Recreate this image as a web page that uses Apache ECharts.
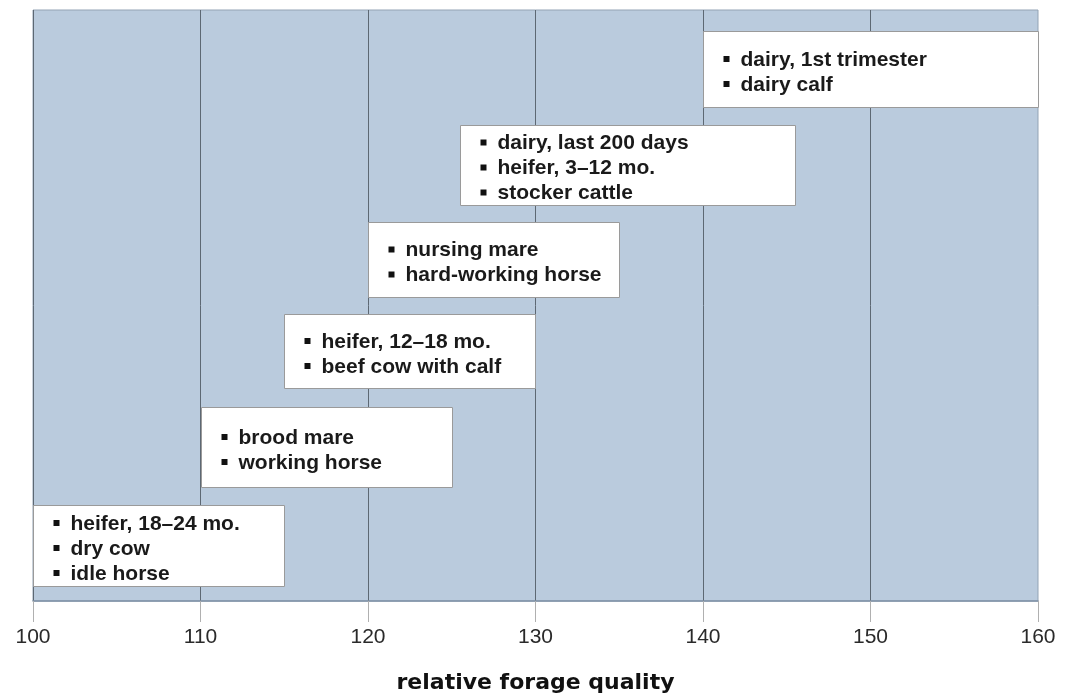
<!DOCTYPE html>
<html>
<head>
<meta charset="utf-8">
<script src="https://cdn.jsdelivr.net/npm/echarts@6/dist/echarts.min.js"></script>
<style>html,body{margin:0;padding:0;background:#fff}#c{width:1069px;height:694px}</style>
</head>
<body>
<div id="c"></div>
<script>
// relative forage quality ranges for each animal group
const groupStart = [100, 110, 115, 120, 125.5, 140];
const groupEnd   = [115, 125, 130, 135, 145.5, 160];
// vertical placement (hidden y axis, 0..100)
const groupTop    = [16.2, 32.8, 48.6, 64.1, 80.5, 96.4];
const groupBottom = [2.5, 19.3, 36.0, 51.4, 67.0, 83.6];
const groupItems = [
  ['heifer, 18–24 mo.', 'dry cow', 'idle horse'],
  ['brood mare', 'working horse'],
  ['heifer, 12–18 mo.', 'beef cow with calf'],
  ['nursing mare', 'hard-working horse'],
  ['dairy, last 200 days', 'heifer, 3–12 mo.', 'stocker cattle'],
  ['dairy, 1st trimester', 'dairy calf']
];
const xMin = 100, xMax = 160, xStep = 10;
const axisTitle = 'relative forage quality';

const seriesData = groupStart.map((s, i) => [s, groupEnd[i], groupTop[i], groupBottom[i]]);
const FONT = '"Liberation Sans", Arial, Helvetica, sans-serif';

const chart = echarts.init(document.getElementById('c'));
chart.setOption({
  animation: false,
  grid: {
    left: 33, right: 31, top: 10, bottom: 93,
    containLabel: false, outerBoundsMode: 'none',
    show: true, backgroundColor: '#bacbdd', borderColor: '#93a3b4', borderWidth: 1
  },
  xAxis: {
    type: 'value', min: xMin, max: xMax, interval: xStep,
    axisLine: { show: true, lineStyle: { color: '#7f91a6', width: 1.5 } },
    axisTick: { show: true, length: 21, lineStyle: { color: '#b0b0b0', width: 1 } },
    axisLabel: { fontSize: 21, color: '#2a2a2a', margin: 26, fontFamily: FONT },
    splitLine: { show: true, showMaxLine: false, lineStyle: { color: '#5d6873', width: 1 } },
    name: axisTitle, nameLocation: 'middle', nameGap: 71,
    nameTextStyle: { fontSize: 22, fontWeight: 'bold', color: '#111', fontFamily: '"DejaVu Sans", sans-serif' }
  },
  yAxis: { type: 'value', min: 0, max: 100, show: false },
  series: [{
    type: 'custom',
    data: seriesData,
    renderItem: function (params, api) {
      const p1 = api.coord([api.value(0), api.value(2)]);
      const p2 = api.coord([api.value(1), api.value(3)]);
      const x = Math.round(p1[0]) + 0.5, y = Math.round(p1[1]) + 0.5;
      const w = Math.round(p2[0] - p1[0]), h = Math.round(p2[1] - p1[1]);
      const items = groupItems[params.dataIndex];
      const n = items.length;
      const cy = y + h / 2 + 3;
      const children = [{
        type: 'rect',
        shape: { x: x, y: y, width: w, height: h },
        style: { fill: '#fff', stroke: '#9a9a9a', lineWidth: 1 }
      }];
      items.forEach((t, j) => {
        const ly = cy + (j - (n - 1) / 2) * 25;
        children.push({
          type: 'rect',
          shape: { x: x + 20, y: ly - 4, width: 6, height: 6 },
          style: { fill: '#111' }
        });
        children.push({
          type: 'text',
          style: {
            x: x + 37, y: ly, text: t, fill: '#1a1a1a',
            font: 'bold 21px ' + FONT, textVerticalAlign: 'middle', textAlign: 'left'
          }
        });
      });
      return { type: 'group', children: children };
    }
  }]
});
</script>
</body>
</html>
